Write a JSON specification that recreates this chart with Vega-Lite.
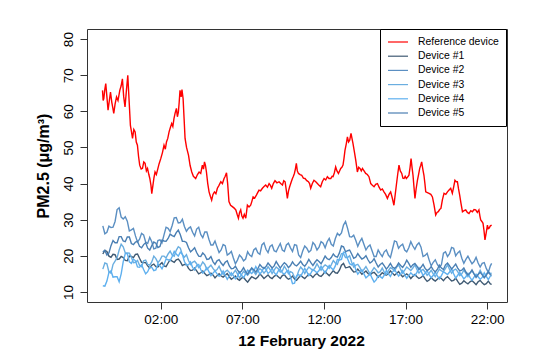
{
  "$schema": "https://vega.github.io/schema/vega-lite/v6.json",
  "width": 420,
  "height": 273,
  "autosize": {"type": "none"},
  "padding": {"left": 87, "top": 29, "right": 29, "bottom": 58},
  "background": "white",
  "config": {"view": {"stroke": "#333333", "strokeWidth": 1}, "font": "Liberation Sans"},
  "data": {"values": [
      {"t":-1.57,"R":65.8},{"t":-1.53,"R":63},{"t":-1.49,"R":63.5},{"t":-1.43,"R":66},{"t":-1.37,"R":67.7},{"t":-1.30,"R":64},{"t":-1.23,"R":60.3},{"t":-1.15,"R":63},{"t":-1.08,"R":65.3},{"t":-1.00,"R":62.5},{"t":-0.94,"R":61},{"t":-0.88,"R":59.4},{"t":-0.80,"R":62},{"t":-0.71,"R":64},{"t":-0.62,"R":63},{"t":-0.51,"R":65.8},{"t":-0.43,"R":67},{"t":-0.35,"R":69},{"t":-0.27,"R":64},{"t":-0.19,"R":61.2},{"t":-0.10,"R":66},{"t":-0.02,"R":70},{"t":0.06,"R":63},{"t":0.14,"R":56.1},{"t":0.20,"R":54.5},{"t":0.27,"R":52.5},{"t":0.35,"R":55},{"t":0.43,"R":54.3},{"t":0.50,"R":51.5},{"t":0.57,"R":50.6},{"t":0.64,"R":47.5},{"t":0.71,"R":45.1},{"t":0.80,"R":44},{"t":0.88,"R":44.2},{"t":0.96,"R":46},{"t":1.04,"R":45.6},{"t":1.12,"R":43.5},{"t":1.19,"R":44.2},{"t":1.27,"R":42.5},{"t":1.33,"R":41.4},{"t":1.40,"R":39.5},{"t":1.45,"R":37.2},{"t":1.52,"R":39.5},{"t":1.58,"R":41.5},{"t":1.65,"R":43.2},{"t":1.73,"R":42.5},{"t":1.80,"R":43.7},{"t":1.90,"R":45.5},{"t":2.00,"R":46.9},{"t":2.10,"R":48.5},{"t":2.20,"R":50.6},{"t":2.28,"R":49.5},{"t":2.35,"R":51.5},{"t":2.43,"R":52.5},{"t":2.51,"R":54.3},{"t":2.59,"R":55.5},{"t":2.67,"R":56.6},{"t":2.74,"R":55.8},{"t":2.81,"R":58},{"t":2.88,"R":59.5},{"t":2.96,"R":60.8},{"t":3.02,"R":58.5},{"t":3.08,"R":59.8},{"t":3.13,"R":62.5},{"t":3.18,"R":65.8},{"t":3.25,"R":64},{"t":3.30,"R":66},{"t":3.37,"R":63.5},{"t":3.43,"R":58},{"t":3.49,"R":52.5},{"t":3.58,"R":50},{"t":3.70,"R":47.9},{"t":3.80,"R":45},{"t":3.90,"R":43.2},{"t":4.00,"R":42},{"t":4.14,"R":41.4},{"t":4.25,"R":42.5},{"t":4.35,"R":43.2},{"t":4.45,"R":42.8},{"t":4.55,"R":45.1},{"t":4.62,"R":44},{"t":4.68,"R":46},{"t":4.74,"R":45},{"t":4.80,"R":43.2},{"t":4.88,"R":40},{"t":4.96,"R":37.7},{"t":5.04,"R":36.5},{"t":5.12,"R":35.4},{"t":5.20,"R":37},{"t":5.29,"R":37.7},{"t":5.38,"R":37.2},{"t":5.47,"R":38.7},{"t":5.57,"R":39.5},{"t":5.68,"R":40.5},{"t":5.78,"R":40},{"t":5.88,"R":41.4},{"t":5.95,"R":42},{"t":6.03,"R":43},{"t":6.10,"R":40},{"t":6.18,"R":35},{"t":6.28,"R":34},{"t":6.39,"R":33.6},{"t":6.50,"R":33.2},{"t":6.60,"R":32.7},{"t":6.68,"R":31.5},{"t":6.76,"R":30.4},{"t":6.83,"R":32},{"t":6.90,"R":32.7},{"t":6.97,"R":31},{"t":7.04,"R":30.4},{"t":7.12,"R":31.5},{"t":7.21,"R":30.4},{"t":7.31,"R":34},{"t":7.41,"R":33.5},{"t":7.51,"R":34},{"t":7.58,"R":35},{"t":7.66,"R":36.3},{"t":7.76,"R":36},{"t":7.86,"R":36.8},{"t":7.94,"R":37.5},{"t":8.02,"R":38.2},{"t":8.12,"R":38},{"t":8.23,"R":38.7},{"t":8.33,"R":39.2},{"t":8.43,"R":39.6},{"t":8.54,"R":39},{"t":8.64,"R":40},{"t":8.72,"R":39.5},{"t":8.80,"R":38.7},{"t":8.90,"R":40},{"t":9.00,"R":40.8},{"t":9.12,"R":40.2},{"t":9.25,"R":40.5},{"t":9.35,"R":40},{"t":9.46,"R":39.6},{"t":9.54,"R":40.8},{"t":9.62,"R":40.5},{"t":9.70,"R":38},{"t":9.76,"R":35.9},{"t":9.83,"R":38},{"t":9.90,"R":39.1},{"t":10.00,"R":40.5},{"t":10.07,"R":41.4},{"t":10.13,"R":42},{"t":10.19,"R":42.8},{"t":10.25,"R":44},{"t":10.31,"R":45.6},{"t":10.37,"R":43.5},{"t":10.44,"R":42.8},{"t":10.54,"R":42.5},{"t":10.64,"R":42.3},{"t":10.74,"R":41.5},{"t":10.84,"R":41.4},{"t":10.95,"R":40.8},{"t":11.05,"R":40.5},{"t":11.12,"R":40},{"t":11.19,"R":38.7},{"t":11.29,"R":40},{"t":11.39,"R":40.9},{"t":11.50,"R":40.5},{"t":11.60,"R":40},{"t":11.70,"R":39.5},{"t":11.80,"R":39.1},{"t":11.90,"R":40.5},{"t":12.01,"R":41.4},{"t":12.11,"R":41},{"t":12.21,"R":41.9},{"t":12.31,"R":41.4},{"t":12.42,"R":41.4},{"t":12.50,"R":42},{"t":12.56,"R":41.9},{"t":12.64,"R":43},{"t":12.72,"R":44.6},{"t":12.80,"R":43.5},{"t":12.89,"R":42.8},{"t":12.96,"R":43.5},{"t":13.03,"R":44.2},{"t":13.10,"R":44.5},{"t":13.17,"R":45.1},{"t":13.23,"R":47},{"t":13.29,"R":49.2},{"t":13.37,"R":51},{"t":13.44,"R":52.9},{"t":13.51,"R":51.5},{"t":13.58,"R":52},{"t":13.66,"R":53.9},{"t":13.72,"R":52.5},{"t":13.78,"R":51.1},{"t":13.86,"R":49},{"t":13.95,"R":46.5},{"t":14.05,"R":43.2},{"t":14.13,"R":44.5},{"t":14.21,"R":44.2},{"t":14.29,"R":43.5},{"t":14.36,"R":44.2},{"t":14.46,"R":43.5},{"t":14.56,"R":42.8},{"t":14.66,"R":42.5},{"t":14.76,"R":41.9},{"t":14.87,"R":40},{"t":14.97,"R":39.5},{"t":15.07,"R":39.1},{"t":15.17,"R":39.8},{"t":15.28,"R":40},{"t":15.38,"R":39},{"t":15.48,"R":38.2},{"t":15.58,"R":38.5},{"t":15.68,"R":37.7},{"t":15.78,"R":37},{"t":15.89,"R":35.9},{"t":15.99,"R":37},{"t":16.09,"R":37.7},{"t":16.19,"R":36},{"t":16.29,"R":34},{"t":16.37,"R":37},{"t":16.44,"R":39.6},{"t":16.52,"R":42.5},{"t":16.60,"R":45.1},{"t":16.68,"R":43.5},{"t":16.77,"R":42.8},{"t":16.84,"R":41.5},{"t":16.91,"R":41.4},{"t":16.98,"R":42},{"t":17.05,"R":41.4},{"t":17.13,"R":41.8},{"t":17.21,"R":42.3},{"t":17.28,"R":44.5},{"t":17.34,"R":46.9},{"t":17.40,"R":44.5},{"t":17.46,"R":42.3},{"t":17.52,"R":39},{"t":17.58,"R":35.9},{"t":17.65,"R":38.5},{"t":17.73,"R":40.9},{"t":17.80,"R":42.5},{"t":17.87,"R":44.2},{"t":17.93,"R":45},{"t":17.99,"R":46},{"t":18.06,"R":44},{"t":18.13,"R":42.3},{"t":18.19,"R":40},{"t":18.24,"R":37.7},{"t":18.34,"R":37.5},{"t":18.44,"R":37.3},{"t":18.55,"R":37},{"t":18.65,"R":36.3},{"t":18.75,"R":34},{"t":18.85,"R":31.3},{"t":18.93,"R":32},{"t":19.01,"R":32.2},{"t":19.09,"R":32.8},{"t":19.17,"R":33.1},{"t":19.26,"R":35.5},{"t":19.36,"R":37.3},{"t":19.47,"R":37},{"t":19.57,"R":37.7},{"t":19.67,"R":38.2},{"t":19.77,"R":38.7},{"t":19.87,"R":37.3},{"t":19.95,"R":39},{"t":20.03,"R":40.9},{"t":20.11,"R":40.5},{"t":20.18,"R":40.5},{"t":20.25,"R":38.5},{"t":20.32,"R":36.8},{"t":20.40,"R":34.5},{"t":20.49,"R":32.2},{"t":20.59,"R":32.5},{"t":20.69,"R":32.7},{"t":20.79,"R":32},{"t":20.89,"R":31.7},{"t":21.00,"R":32.5},{"t":21.10,"R":32.2},{"t":21.20,"R":32.8},{"t":21.30,"R":32.7},{"t":21.40,"R":32},{"t":21.50,"R":32.7},{"t":21.56,"R":31},{"t":21.61,"R":29.9},{"t":21.68,"R":29.5},{"t":21.75,"R":29},{"t":21.81,"R":27},{"t":21.87,"R":24.4},{"t":21.95,"R":26.5},{"t":22.02,"R":28.5},{"t":22.07,"R":27.5},{"t":22.12,"R":27.6},{"t":22.20,"R":28.3},{"t":22.28,"R":28.5},
      {"t":-1.55,"D1":20.5,"D2":28.3,"D3":16.3,"D4":11.7,"D5":21.1},
      {"t":-1.425,"D1":21.5,"D2":26.1,"D3":18.0,"D4":11.6,"D5":21.5},
      {"t":-1.30,"D1":21.2,"D2":26.5,"D3":17.8,"D4":13,"D5":20.2},
      {"t":-1.175,"D1":19.9,"D2":28.2,"D3":15.5,"D4":15.4,"D5":20.8},
      {"t":-1.05,"D1":19.6,"D2":27.8,"D3":15.2,"D4":15.8,"D5":22.8},
      {"t":-0.925,"D1":20.4,"D2":27.9,"D3":17.6,"D4":14.1,"D5":24.2},
      {"t":-0.80,"D1":20.3,"D2":29.5,"D3":18.5,"D4":14.2,"D5":23.6},
      {"t":-0.675,"D1":19.0,"D2":32.8,"D3":19.5,"D4":14.2,"D5":23.6},
      {"t":-0.55,"D1":19.1,"D2":33.3,"D3":21.6,"D4":12.8,"D5":25.3},
      {"t":-0.425,"D1":19.8,"D2":30.7,"D3":23.2,"D4":15.0,"D5":25.3},
      {"t":-0.30,"D1":19.5,"D2":30.2,"D3":22.5,"D4":18.4,"D5":24.1},
      {"t":-0.175,"D1":18.7,"D2":30.8,"D3":20.8,"D4":20.6,"D5":23.9},
      {"t":-0.05,"D1":18.6,"D2":29.6,"D3":20.8,"D4":20.6,"D5":25.2},
      {"t":0.075,"D1":19.9,"D2":26.9,"D3":20.7,"D4":18.3,"D5":25.2},
      {"t":0.20,"D1":19.8,"D2":27.2,"D3":19.6,"D4":17.9,"D5":23.4},
      {"t":0.325,"D1":19.5,"D2":27.6,"D3":18.1,"D4":19.1,"D5":23.1},
      {"t":0.45,"D1":20.4,"D2":25.5,"D3":18.2,"D4":18.6,"D5":23.8},
      {"t":0.575,"D1":20.5,"D2":23.8,"D3":18.7,"D4":16.9,"D5":24.0},
      {"t":0.70,"D1":19.3,"D2":24.6,"D3":17.4,"D4":16.8,"D5":22.6},
      {"t":0.825,"D1":18.2,"D2":26.2,"D3":17.0,"D4":17.5,"D5":22.2},
      {"t":0.95,"D1":18.1,"D2":25.8,"D3":18.6,"D4":16.2,"D5":23.1},
      {"t":1.075,"D1":18.1,"D2":23.8,"D3":18.8,"D4":15.0,"D5":23.6},
      {"t":1.20,"D1":17.2,"D2":23.4,"D3":17.6,"D4":15.6,"D5":22.1},
      {"t":1.325,"D1":16.6,"D2":25.1,"D3":17.4,"D4":16.9,"D5":21.6},
      {"t":1.45,"D1":17.4,"D2":23.9,"D3":18.3,"D4":16.8,"D5":22.8},
      {"t":1.575,"D1":17.7,"D2":21.9,"D3":19.9,"D4":15.9,"D5":23.8},
      {"t":1.70,"D1":17.0,"D2":22.1,"D3":19.2,"D4":16.1,"D5":23.5},
      {"t":1.825,"D1":16.9,"D2":24.2,"D3":18.1,"D4":17.8,"D5":22.3},
      {"t":1.95,"D1":17.6,"D2":24.4,"D3":18.8,"D4":17.2,"D5":22.6},
      {"t":2.075,"D1":18.1,"D2":23.6,"D3":19.9,"D4":16.4,"D5":24.3},
      {"t":2.20,"D1":17.2,"D2":25.8,"D3":19.9,"D4":17.6,"D5":24.1},
      {"t":2.325,"D1":17.0,"D2":27.9,"D3":19.4,"D4":19.1,"D5":24.0},
      {"t":2.45,"D1":18.0,"D2":27.6,"D3":20.5,"D4":18.9,"D5":24.8},
      {"t":2.575,"D1":18.9,"D2":26.7,"D3":21.3,"D4":18.6,"D5":26.0},
      {"t":2.70,"D1":18.5,"D2":28.4,"D3":20.2,"D4":19.8,"D5":25.6},
      {"t":2.825,"D1":18.2,"D2":30.5,"D3":19.9,"D4":21.2,"D5":25.3},
      {"t":2.95,"D1":18.9,"D2":30.6,"D3":21.5,"D4":20.5,"D5":26.4},
      {"t":3.075,"D1":19.1,"D2":29.1,"D3":22.5,"D4":19.9,"D5":27.1},
      {"t":3.20,"D1":18.4,"D2":29.2,"D3":22.1,"D4":21.0,"D5":25.8},
      {"t":3.325,"D1":17.3,"D2":30.1,"D3":20.3,"D4":20.4,"D5":24.0},
      {"t":3.45,"D1":17.6,"D2":28.1,"D3":19.6,"D4":18.4,"D5":24.0},
      {"t":3.575,"D1":17.6,"D2":26.8,"D3":20.3,"D4":17.4,"D5":23.7},
      {"t":3.70,"D1":16.5,"D2":27.6,"D3":18.7,"D4":17.5,"D5":22.2},
      {"t":3.825,"D1":15.9,"D2":28.0,"D3":17.6,"D4":18.3,"D5":21.1},
      {"t":3.95,"D1":16.0,"D2":26.5,"D3":18.2,"D4":16.8,"D5":21.6},
      {"t":4.075,"D1":16.6,"D2":25.5,"D3":18.5,"D4":16.1,"D5":22.2},
      {"t":4.20,"D1":15.8,"D2":27.4,"D3":17.8,"D4":17.3,"D5":20.9},
      {"t":4.325,"D1":15.0,"D2":27.9,"D3":16.7,"D4":17.6,"D5":19.9},
      {"t":4.45,"D1":15.3,"D2":25.9,"D3":17.2,"D4":16.2,"D5":19.8},
      {"t":4.575,"D1":15.8,"D2":25.0,"D3":18.3,"D4":15.2,"D5":20.8},
      {"t":4.70,"D1":15.1,"D2":26.6,"D3":17.6,"D4":15.8,"D5":20.2},
      {"t":4.825,"D1":14.5,"D2":26.6,"D3":16.2,"D4":16.7,"D5":19.0},
      {"t":4.95,"D1":14.8,"D2":24.6,"D3":16.8,"D4":15.6,"D5":19.1},
      {"t":5.075,"D1":15.2,"D2":23.0,"D3":17.4,"D4":14.5,"D5":19.8},
      {"t":5.20,"D1":14.7,"D2":23.0,"D3":16.5,"D4":15.2,"D5":18.4},
      {"t":5.325,"D1":13.9,"D2":24.1,"D3":15.8,"D4":15.8,"D5":17.6},
      {"t":5.45,"D1":14.5,"D2":22.4,"D3":16.2,"D4":15.0,"D5":18.6},
      {"t":5.575,"D1":15.0,"D2":20.9,"D3":17.1,"D4":14.3,"D5":18.9},
      {"t":5.70,"D1":14.4,"D2":21.6,"D3":15.8,"D4":14.8,"D5":18.0},
      {"t":5.825,"D1":14.1,"D2":23.1,"D3":14.8,"D4":15.8,"D5":17.3},
      {"t":5.95,"D1":14.6,"D2":22.8,"D3":15.6,"D4":14.6,"D5":18.2},
      {"t":6.075,"D1":15.1,"D2":20.2,"D3":16.0,"D4":13.5,"D5":18.6},
      {"t":6.20,"D1":14.2,"D2":20.6,"D3":15.4,"D4":14.4,"D5":17.2},
      {"t":6.325,"D1":13.5,"D2":21.2,"D3":14.5,"D4":15.3,"D5":16.4},
      {"t":6.45,"D1":13.9,"D2":19.4,"D3":15.2,"D4":14.5,"D5":16.5},
      {"t":6.575,"D1":14.4,"D2":17.8,"D3":16.0,"D4":13.6,"D5":17.1},
      {"t":6.70,"D1":13.6,"D2":18.8,"D3":15.0,"D4":14.3,"D5":16.1},
      {"t":6.825,"D1":13.2,"D2":20.2,"D3":13.9,"D4":15.5,"D5":15.3},
      {"t":6.95,"D1":13.8,"D2":19.6,"D3":14.8,"D4":14.6,"D5":15.8},
      {"t":7.075,"D1":14.0,"D2":18.6,"D3":15.7,"D4":13.9,"D5":16.7},
      {"t":7.20,"D1":13.3,"D2":19.1,"D3":15.1,"D4":15.0,"D5":15.6},
      {"t":7.325,"D1":12.7,"D2":21.1,"D3":14.6,"D4":16.0,"D5":14.9},
      {"t":7.45,"D1":13.5,"D2":20.2,"D3":15.3,"D4":15.5,"D5":15.9},
      {"t":7.575,"D1":14.2,"D2":19.8,"D3":16.6,"D4":15.1,"D5":16.6},
      {"t":7.70,"D1":13.9,"D2":21.6,"D3":15.6,"D4":15.8,"D5":16.1},
      {"t":7.825,"D1":13.6,"D2":22.1,"D3":14.8,"D4":17.0,"D5":15.5},
      {"t":7.95,"D1":14.1,"D2":20.8,"D3":15.8,"D4":16.0,"D5":16.4},
      {"t":8.075,"D1":15.0,"D2":20.4,"D3":16.4,"D4":14.9,"D5":17.6},
      {"t":8.20,"D1":14.4,"D2":23.0,"D3":16.0,"D4":15.7,"D5":16.9},
      {"t":8.325,"D1":13.7,"D2":23.6,"D3":15.2,"D4":16.8,"D5":16.5},
      {"t":8.45,"D1":14.2,"D2":21.8,"D3":15.9,"D4":16.2,"D5":17.0},
      {"t":8.575,"D1":14.7,"D2":20.9,"D3":17.0,"D4":15.1,"D5":18.0},
      {"t":8.70,"D1":14.0,"D2":22.6,"D3":16.2,"D4":15.6,"D5":17.3},
      {"t":8.825,"D1":13.7,"D2":23.0,"D3":15.1,"D4":16.5,"D5":16.6},
      {"t":8.95,"D1":14.3,"D2":21.4,"D3":16.0,"D4":15.4,"D5":17.2},
      {"t":9.075,"D1":14.7,"D2":21.1,"D3":16.9,"D4":14.7,"D5":18.4},
      {"t":9.20,"D1":14.2,"D2":22.3,"D3":16.4,"D4":15.8,"D5":17.5},
      {"t":9.325,"D1":13.7,"D2":23.4,"D3":15.5,"D4":16.3,"D5":16.6},
      {"t":9.45,"D1":14.5,"D2":21.6,"D3":15.8,"D4":15.3,"D5":17.4},
      {"t":9.575,"D1":14.8,"D2":21.2,"D3":17.1,"D4":14.9,"D5":18.1},
      {"t":9.70,"D1":14.0,"D2":23.0,"D3":16.2,"D4":15.6,"D5":17.6},
      {"t":9.825,"D1":13.5,"D2":23.5,"D3":15.0,"D4":16.0,"D5":16.7},
      {"t":9.95,"D1":13.8,"D2":22.2,"D3":15.6,"D4":14.2,"D5":17.3},
      {"t":10.075,"D1":14.4,"D2":21.2,"D3":15.3,"D4":12.3,"D5":18.3},
      {"t":10.20,"D1":13.6,"D2":23.1,"D3":14.0,"D4":12.4,"D5":17.5},
      {"t":10.325,"D1":13.2,"D2":22.9,"D3":14.1,"D4":14.4,"D5":17.2},
      {"t":10.45,"D1":13.9,"D2":20.2,"D3":15.8,"D4":14.8,"D5":17.8},
      {"t":10.575,"D1":14.6,"D2":19.5,"D3":16.9,"D4":14.3,"D5":18.5},
      {"t":10.70,"D1":14.1,"D2":21.3,"D3":16.2,"D4":15.4,"D5":17.6},
      {"t":10.825,"D1":13.7,"D2":22.7,"D3":15.1,"D4":16.5,"D5":17.1},
      {"t":10.95,"D1":14.3,"D2":22.1,"D3":16.0,"D4":15.6,"D5":17.9},
      {"t":11.075,"D1":14.9,"D2":21.0,"D3":16.9,"D4":14.5,"D5":19.0},
      {"t":11.20,"D1":14.6,"D2":21.5,"D3":16.4,"D4":15.2,"D5":18.1},
      {"t":11.325,"D1":14.0,"D2":23.7,"D3":15.9,"D4":16.2,"D5":17.3},
      {"t":11.45,"D1":14.7,"D2":23.0,"D3":16.6,"D4":15.8,"D5":18.2},
      {"t":11.575,"D1":15.1,"D2":21.6,"D3":17.8,"D4":15.3,"D5":18.9},
      {"t":11.70,"D1":14.5,"D2":22.4,"D3":16.8,"D4":15.9,"D5":18.4},
      {"t":11.825,"D1":14.3,"D2":23.9,"D3":16.0,"D4":17.1,"D5":17.8},
      {"t":11.95,"D1":14.9,"D2":23.5,"D3":16.9,"D4":16.1,"D5":18.8},
      {"t":12.075,"D1":15.7,"D2":22.2,"D3":17.5,"D4":15.2,"D5":19.9},
      {"t":12.20,"D1":15.0,"D2":23.9,"D3":17.1,"D4":16.3,"D5":19.2},
      {"t":12.325,"D1":14.5,"D2":24.8,"D3":16.5,"D4":17.3,"D5":18.9},
      {"t":12.45,"D1":15.2,"D2":23.2,"D3":17.5,"D4":16.6,"D5":19.5},
      {"t":12.575,"D1":15.9,"D2":22.7,"D3":18.7,"D4":16.1,"D5":20.5},
      {"t":12.70,"D1":15.3,"D2":24.8,"D3":18.0,"D4":17.2,"D5":19.8},
      {"t":12.825,"D1":15.2,"D2":26.2,"D3":17.6,"D4":19.0,"D5":19.6},
      {"t":12.95,"D1":16.0,"D2":25.6,"D3":19.2,"D4":18.8,"D5":20.8},
      {"t":13.075,"D1":17.4,"D2":26.3,"D3":20.6,"D4":19.0,"D5":22.7},
      {"t":13.20,"D1":17.9,"D2":28.5,"D3":20.6,"D4":21.0,"D5":22.5},
      {"t":13.325,"D1":16.7,"D2":29.5,"D3":19.5,"D4":20.8,"D5":21.1},
      {"t":13.45,"D1":16.8,"D2":27.6,"D3":19.5,"D4":19.2,"D5":21.4},
      {"t":13.575,"D1":17.0,"D2":25.3,"D3":20.0,"D4":17.8,"D5":21.6},
      {"t":13.70,"D1":16.2,"D2":25.2,"D3":18.2,"D4":17.5,"D5":20.5},
      {"t":13.825,"D1":15.5,"D2":25.7,"D3":16.9,"D4":18.0,"D5":19.3},
      {"t":13.95,"D1":15.6,"D2":24.3,"D3":17.4,"D4":16.2,"D5":19.6},
      {"t":14.075,"D1":16.3,"D2":22.6,"D3":17.6,"D4":14.9,"D5":20.6},
      {"t":14.20,"D1":15.6,"D2":23.9,"D3":16.8,"D4":15.6,"D5":19.8},
      {"t":14.325,"D1":14.9,"D2":24.8,"D3":15.7,"D4":16.1,"D5":19.1},
      {"t":14.45,"D1":15.3,"D2":23.2,"D3":16.2,"D4":15.0,"D5":19.4},
      {"t":14.575,"D1":15.8,"D2":21.6,"D3":17.0,"D4":13.9,"D5":20.0},
      {"t":14.70,"D1":15.1,"D2":22.5,"D3":16.0,"D4":14.4,"D5":18.9},
      {"t":14.825,"D1":14.7,"D2":23.0,"D3":14.9,"D4":15.1,"D5":18.0},
      {"t":14.95,"D1":15.2,"D2":21.4,"D3":15.8,"D4":13.8,"D5":18.4},
      {"t":15.075,"D1":15.4,"D2":19.8,"D3":16.7,"D4":12.7,"D5":19.2},
      {"t":15.20,"D1":14.8,"D2":19.8,"D3":16.1,"D4":13.3,"D5":18.0},
      {"t":15.325,"D1":14.1,"D2":21.6,"D3":15.3,"D4":14.5,"D5":16.9},
      {"t":15.45,"D1":14.7,"D2":20.6,"D3":15.6,"D4":14.2,"D5":17.6},
      {"t":15.575,"D1":15.3,"D2":19.8,"D3":16.6,"D4":13.8,"D5":18.0},
      {"t":15.70,"D1":14.9,"D2":21.1,"D3":15.4,"D4":14.6,"D5":17.2},
      {"t":15.825,"D1":14.6,"D2":21.6,"D3":14.8,"D4":15.9,"D5":16.3},
      {"t":15.95,"D1":15.0,"D2":20.2,"D3":15.9,"D4":15.0,"D5":17.0},
      {"t":16.075,"D1":15.8,"D2":19.5,"D3":16.7,"D4":14.3,"D5":17.9},
      {"t":16.20,"D1":15.2,"D2":21.8,"D3":16.4,"D4":15.5,"D5":16.9},
      {"t":16.325,"D1":14.6,"D2":24.1,"D3":15.8,"D4":16.2,"D5":16.5},
      {"t":16.45,"D1":15.1,"D2":23.9,"D3":16.8,"D4":15.3,"D5":17.0},
      {"t":16.575,"D1":15.6,"D2":22.1,"D3":17.5,"D4":14.4,"D5":18.0},
      {"t":16.70,"D1":14.8,"D2":22.8,"D3":16.3,"D4":15.0,"D5":17.3},
      {"t":16.825,"D1":14.2,"D2":23.2,"D3":15.2,"D4":15.9,"D5":16.8},
      {"t":16.95,"D1":14.6,"D2":21.6,"D3":16.0,"D4":14.8,"D5":17.6},
      {"t":17.075,"D1":15.0,"D2":21.1,"D3":16.9,"D4":13.8,"D5":18.8},
      {"t":17.20,"D1":14.5,"D2":22.2,"D3":16.4,"D4":14.5,"D5":17.9},
      {"t":17.325,"D1":13.7,"D2":23.9,"D3":15.9,"D4":15.3,"D5":16.8},
      {"t":17.45,"D1":14.3,"D2":22.7,"D3":16.6,"D4":14.7,"D5":17.5},
      {"t":17.575,"D1":14.8,"D2":21.8,"D3":17.5,"D4":14.5,"D5":17.9},
      {"t":17.70,"D1":14.2,"D2":23.0,"D3":16.2,"D4":15.4,"D5":17.1},
      {"t":17.825,"D1":13.7,"D2":23.6,"D3":15.2,"D4":16.7,"D5":16.2},
      {"t":17.95,"D1":14.0,"D2":22.4,"D3":15.9,"D4":15.8,"D5":16.8},
      {"t":18.075,"D1":14.5,"D2":19.8,"D3":16.2,"D4":14.5,"D5":17.6},
      {"t":18.20,"D1":13.6,"D2":20.1,"D3":15.5,"D4":15.2,"D5":16.5},
      {"t":18.325,"D1":12.9,"D2":20.7,"D3":14.6,"D4":15.8,"D5":15.9},
      {"t":18.45,"D1":13.3,"D2":18.8,"D3":15.2,"D4":14.8,"D5":16.3},
      {"t":18.575,"D1":14.0,"D2":17.2,"D3":16.0,"D4":13.9,"D5":17.0},
      {"t":18.70,"D1":13.4,"D2":18.2,"D3":15.0,"D4":14.6,"D5":16.1},
      {"t":18.825,"D1":13.0,"D2":18.9,"D3":14.2,"D4":15.5,"D5":15.5},
      {"t":18.95,"D1":13.5,"D2":17.6,"D3":15.3,"D4":14.4,"D5":16.2},
      {"t":19.075,"D1":14.0,"D2":16.8,"D3":16.3,"D4":13.6,"D5":17.4},
      {"t":19.20,"D1":13.7,"D2":17.5,"D3":15.8,"D4":14.5,"D5":16.6},
      {"t":19.325,"D1":13.1,"D2":20.7,"D3":15.6,"D4":15.6,"D5":16.2},
      {"t":19.45,"D1":13.8,"D2":21.1,"D3":16.5,"D4":15.2,"D5":17.5},
      {"t":19.575,"D1":14.2,"D2":19.8,"D3":17.5,"D4":14.8,"D5":18.0},
      {"t":19.70,"D1":13.6,"D2":20.6,"D3":16.2,"D4":15.5,"D5":17.2},
      {"t":19.825,"D1":13.0,"D2":22.3,"D3":15.2,"D4":16.4,"D5":16.3},
      {"t":19.95,"D1":13.2,"D2":22.1,"D3":16.0,"D4":15.0,"D5":17.0},
      {"t":20.075,"D1":13.8,"D2":20.0,"D3":16.3,"D4":13.8,"D5":17.7},
      {"t":20.20,"D1":12.9,"D2":20.8,"D3":15.6,"D4":14.6,"D5":16.6},
      {"t":20.325,"D1":12.1,"D2":21.3,"D3":14.5,"D4":15.4,"D5":15.8},
      {"t":20.45,"D1":12.4,"D2":19.3,"D3":15.0,"D4":14.5,"D5":16.0},
      {"t":20.575,"D1":13.1,"D2":17.9,"D3":16.0,"D4":13.6,"D5":16.6},
      {"t":20.70,"D1":12.6,"D2":19.0,"D3":15.1,"D4":14.2,"D5":15.5},
      {"t":20.825,"D1":12.2,"D2":19.9,"D3":14.2,"D4":15.1,"D5":14.7},
      {"t":20.95,"D1":12.8,"D2":18.8,"D3":15.2,"D4":14.0,"D5":15.2},
      {"t":21.075,"D1":13.1,"D2":17.8,"D3":15.8,"D4":13.2,"D5":16.1},
      {"t":21.20,"D1":12.6,"D2":18.4,"D3":15.0,"D4":14.1,"D5":15.0},
      {"t":21.325,"D1":12.0,"D2":19.6,"D3":14.3,"D4":14.9,"D5":14.0},
      {"t":21.45,"D1":12.8,"D2":18.0,"D3":14.8,"D4":14.2,"D5":14.8},
      {"t":21.575,"D1":13.2,"D2":16.9,"D3":16.0,"D4":13.5,"D5":15.4},
      {"t":21.70,"D1":12.5,"D2":17.9,"D3":14.9,"D4":14.0,"D5":14.7},
      {"t":21.825,"D1":12.0,"D2":18.1,"D3":14.1,"D4":15.3,"D5":13.9},
      {"t":21.95,"D1":12.3,"D2":16.5,"D3":15.0,"D4":14.3,"D5":14.6},
      {"t":22.075,"D1":13.0,"D2":15.4,"D3":15.6,"D4":13.4,"D5":15.6},
      {"t":22.20,"D1":12.2,"D2":17.2,"D3":15.1,"D4":14.4,"D5":14.7},
      {"t":22.28,"D1":12.1,"D2":17.9,"D3":15.2,"D4":14.5,"D5":14.7}
  ]},
  "transform": [
    {"fold": ["R", "D1", "D2", "D3", "D4", "D5"], "as": ["key", "value"]},
    {"filter": "isValid(datum.value)"}
  ],
  "mark": {"type": "line", "strokeWidth": 1.4},
  "encoding": {
    "x": {
      "field": "t", "type": "quantitative",
      "scale": {"domain": [-2.52, 23.22], "nice": false, "zero": false},
      "axis": {
        "values": [2, 7, 12, 17, 22],
        "labelExpr": "(datum.value < 10 ? '0' : '') + datum.value + ':00'",
        "title": "12 February 2022",
        "grid": false, "domain": false,
        "tickSize": 7, "tickColor": "#333333",
        "labelFontSize": 13.5, "labelPadding": 3, "labelColor": "#000000",
        "titleFontSize": 15.5, "titleFontWeight": "bold", "titleColor": "#000000",
        "titleX": 214, "titleY": 38, "titleBaseline": "middle", "titleAlign": "center"
      }
    },
    "y": {
      "field": "value", "type": "quantitative",
      "scale": {"domain": [7.2, 82.8], "nice": false, "zero": false},
      "axis": {
        "values": [10, 20, 30, 40, 50, 60, 70, 80],
        "title": "PM2.5 (μg/m³)",
        "grid": false, "domain": false,
        "tickSize": 7, "tickColor": "#333333",
        "labelAngle": -90, "labelAlign": "center", "labelBaseline": "bottom",
        "labelFontSize": 13.5, "labelPadding": 5, "labelColor": "#000000",
        "titleFontSize": 16, "titleFontWeight": "bold", "titleColor": "#000000",
        "titleAngle": -90, "titleX": -43.5, "titleY": 136.5, "titleAlign": "center", "titleBaseline": "middle"
      }
    },
    "color": {
      "field": "key", "type": "nominal",
      "scale": {
        "domain": ["R", "D1", "D2", "D3", "D4", "D5"],
        "range": ["#ff0000", "#3f5a73", "#5b8fc2", "#6aaee0", "#5fb0ef", "#4a7fb3"]
      },
      "legend": {
        "orient": "none", "legendX": 293, "legendY": 0,
        "title": null,
        "symbolType": "M-1,0L3,0", "symbolSize": 100, "symbolStrokeWidth": 1.2,
        "labelFontSize": 10.4, "labelOffset": 19, "labelColor": "#000000",
        "padding": 7, "rowPadding": 2.2,
        "strokeColor": "#000000", "fillColor": "#ffffff",
        "labelExpr": "datum.label == 'R' ? 'Reference device' : 'Device #' + substring(datum.label, 1)"
      }
    }
  }
}
